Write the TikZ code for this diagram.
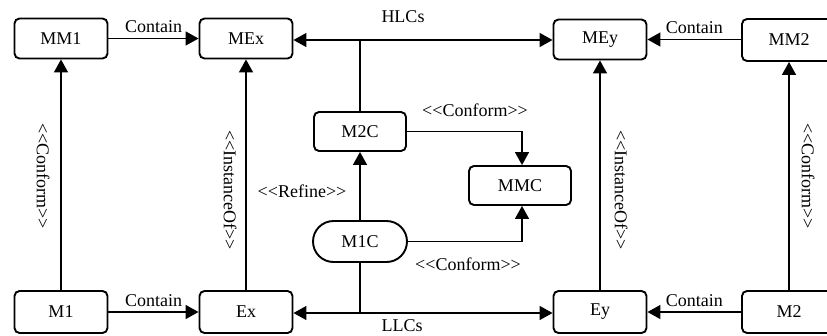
\documentclass[tikz,border=0pt]{standalone}
\usepackage{fontspec}
\setmainfont{Liberation Serif}
\usetikzlibrary{arrows.meta,shapes.misc}
\newcommand{\lt}{{<}{<}}
\newcommand{\gt}{{>}{>}}
\begin{document}
\begin{tikzpicture}[x=1pt,y=-1pt,
  box/.style={draw,line width=1.9pt,rounded corners=5pt,minimum width=93pt,minimum height=40pt,inner sep=0pt,font=\fontsize{18}{20}\selectfont},
  pill/.style={draw,line width=1.9pt,rounded rectangle,minimum width=94pt,minimum height=41pt,inner sep=0pt,font=\fontsize{18}{20}\selectfont},
  conn/.style={line width=1.5pt,-{Triangle[length=13pt,width=14pt]}},
  both/.style={line width=1.5pt,{Triangle[length=13pt,width=14pt]}-{Triangle[length=13pt,width=14pt]}},
  lbl/.style={font=\fontsize{18}{20}\selectfont,inner sep=0pt},
  vlbl/.style={font=\fontsize{18}{20}\selectfont,inner sep=0pt,rotate=-90}]
\useasboundingbox (0,0) rectangle (827,335);
\begin{scope}
\clip (0,0) rectangle (827,335);
\node[box] (MM1) at (61,38.5) {MM1};
\node[box] (MEx) at (246,38.5) {MEx};
\node[box] (MEy) at (600,39.5) {MEy};
\node[box,minimum width=94pt,minimum height=42pt] (MM2) at (789,40) {MM2};
\node[box,minimum width=92pt,minimum height=39pt] (M2C) at (360,131.5) {M2C};
\node[box,minimum width=102pt,minimum height=39pt] (MMC) at (520,185.5) {MMC};
\node[pill] (M1C) at (360,241.5) {M1C};
\node[box,minimum height=42pt] (M1) at (61,312) {M1};
\node[box,minimum height=42pt] (Ex) at (246,312) {Ex};
\node[box,minimum height=42pt] (Ey) at (600,312) {Ey};
\node[box,minimum width=94pt,minimum height=42pt] (M2) at (789,312) {M2};
\end{scope}

\coordinate (hj) at (360,40);
\coordinate (lj) at (360,313);
\coordinate (c1) at (522,131.5);
\coordinate (c2) at (522,241.5);

% top row
\draw[conn] (MM1) -- (MEx) node[lbl,midway,above=5pt] {Contain};
\draw[conn] (MM2.west |- MEy) -- (MEy) node[lbl,midway,above=5pt] {Contain};
\draw[both] (MEx.east |- hj) -- (MEy.west |- hj);
\draw[line width=1.5pt] (M2C.north) -- (hj);
\node[lbl] (hlc) at (403,17) {HLCs};

% bottom row
\draw[conn] (M1) -- (Ex) node[lbl,midway,above=5pt] {Contain};
\draw[conn] (M2) -- (Ey) node[lbl,midway,above=5pt] {Contain};
\draw[both] (Ex.east |- lj) -- (Ey.west |- lj);
\draw[line width=1.5pt] (M1C.south) -- (lj);
\node[lbl] (llc) at (402,326) {LLCs};

% verticals
\draw[conn] (M1.north) -- (MM1.south);
\node[vlbl] (v1) at (43,176) {\lt Conform\gt};
\draw[conn] (Ex.north) -- (MEx.south);
\node[vlbl] (v2) at (230,190) {\lt InstanceOf\gt};
\draw[conn] (Ey.north) -- (MEy.south);
\node[vlbl] (v3) at (621,190) {\lt InstanceOf\gt};
\draw[conn] (M2.north) -- (MM2.south);
\node[vlbl] (v4) at (808,176) {\lt Conform\gt};

% middle
\draw[conn] (M1C.north) -- (M2C.south);
\node[lbl] (ref) at (302,191) {\lt Refine\gt};
\draw[conn] (M2C.east) -- (c1) -- (c1 |- MMC.north);
\node[lbl] (cf1) at (475,110) {\lt Conform\gt};
\draw[conn] (M1C.east) -- (c2) -- (c2 |- MMC.south);
\node[lbl] (cf2) at (468,264) {\lt Conform\gt};
\end{tikzpicture}
\end{document}
